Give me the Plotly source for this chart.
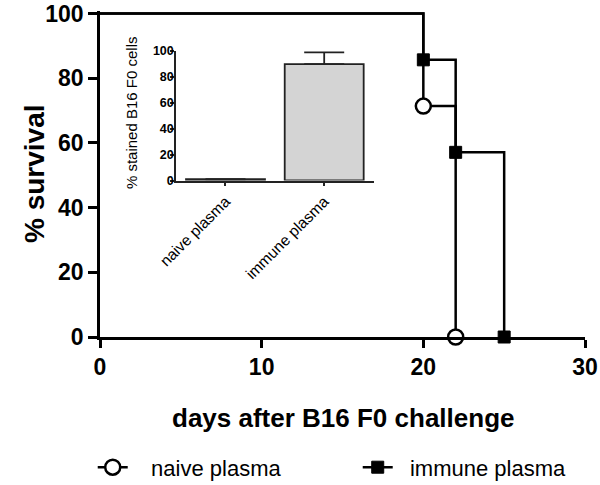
import plotly.graph_objects as go

# Survival data (days, % survival)
naive_days = [0, 20, 22]
naive_surv = [100, 71.4, 0]
immune_days = [0, 20, 22, 25]
immune_surv = [100, 85.7, 57.1, 0]

# Inset bar data
inset_cats = ["naive plasma", "immune plasma"]
inset_vals = [1, 90]
inset_err = [0, 9]

FONT = "Liberation Sans, Arial, Helvetica, sans-serif"
LW = 2.5

fig = go.Figure()

# step lines
fig.add_trace(go.Scatter(x=naive_days, y=naive_surv, mode="lines", line=dict(color="black", width=LW, shape="hv"),
                         showlegend=False, cliponaxis=False, hoverinfo="skip"))
fig.add_trace(go.Scatter(x=immune_days, y=immune_surv, mode="lines", line=dict(color="black", width=LW, shape="hv"),
                         showlegend=False, cliponaxis=False, hoverinfo="skip"))
# markers (at event points only)
fig.add_trace(go.Scatter(x=immune_days[1:], y=immune_surv[1:], mode="markers",
                         marker=dict(symbol="square", size=12, color="black", line=dict(color="black", width=1)),
                         showlegend=False, cliponaxis=False))
fig.add_trace(go.Scatter(x=naive_days[1:], y=naive_surv[1:], mode="markers",
                         marker=dict(symbol="circle", size=15, color="white", line=dict(color="black", width=LW)),
                         showlegend=False, cliponaxis=False))
# legend entries
fig.add_trace(go.Scatter(x=[None], y=[None], mode="lines+markers", name="   naive plasma",
                         line=dict(color="black", width=LW),
                         marker=dict(symbol="circle", size=15, color="white", line=dict(color="black", width=LW))))
fig.add_trace(go.Scatter(x=[None], y=[None], mode="lines+markers", name="  immune plasma",
                         line=dict(color="black", width=LW),
                         marker=dict(symbol="square", size=12, color="black", line=dict(color="black", width=1))))

# inset bars
fig.add_trace(go.Bar(x=inset_cats, y=inset_vals, xaxis="x2", yaxis="y2", width=0.8,
                     marker=dict(color="#d4d4d4", line=dict(color="#222", width=1.8)),
                     error_y=dict(type="data", array=inset_err, arrayminus=[0, 0], symmetric=False,
                                  color="#222", thickness=1.8, width=20),
                     showlegend=False))

fig.update_layout(
    width=600, height=485,
    margin=dict(l=100, r=15, t=11.4, b=148, autoexpand=False),
    plot_bgcolor="white", paper_bgcolor="white",
    font=dict(family=FONT, color="black"),
    xaxis=dict(range=[0, 30], tickvals=[0, 10, 20, 30], showgrid=False, zeroline=False, automargin=False,
               showline=True, linecolor="black", linewidth=LW, ticks="outside", ticklen=8, tickwidth=LW,
               tickcolor="black", tickfont=dict(size=23, family=FONT, weight="bold")),
    yaxis=dict(range=[0, 100.8], tickvals=[0, 20, 40, 60, 80, 100], showgrid=False, zeroline=False, automargin=False,
               showline=True, linecolor="black", linewidth=LW, ticks="outside", ticklen=9, tickwidth=LW,
               tickcolor="black", tickfont=dict(size=23, family=FONT, weight="bold")),
    xaxis2=dict(domain=[0.157, 0.564], anchor="y2", range=[-0.5, 1.5], showgrid=False, zeroline=False,
                automargin=False,
                showline=True, linecolor="#222", linewidth=1.8, ticks="outside", ticklen=4, tickwidth=1.8,
                tickcolor="#222", tickangle=-45, tickfont=dict(size=15.5, family=FONT)),
    yaxis2=dict(domain=[0.480, 0.877], anchor="x2", range=[0, 100], tickvals=[0, 20, 40, 60, 80, 100],
                automargin=False,
                showgrid=False, zeroline=False, showline=True, linecolor="#222", linewidth=1.8,
                ticks="outside", ticklen=4, tickwidth=1.8, tickcolor="#222", ticklabelstandoff=-6,
                tickfont=dict(size=12.5, family=FONT, weight="bold")),
    legend=dict(orientation="h", x=-0.015, xanchor="left", y=-0.40, yanchor="middle",
                font=dict(size=22, family=FONT), entrywidth=220, entrywidthmode="pixels",
                bgcolor="rgba(0,0,0,0)"),
    annotations=[
        dict(text="% survival", xref="paper", yref="paper", x=-0.136, y=0.5, textangle=-90,
             showarrow=False, font=dict(size=28, family=FONT, weight="bold"), xanchor="center", yanchor="middle"),
        dict(text="days after B16 F0 challenge", xref="paper", yref="paper", x=0.5, y=-0.248,
             showarrow=False, font=dict(size=26, family=FONT, weight="bold"), xanchor="center", yanchor="middle"),
        dict(text="% stained B16 F0 cells", xref="paper", yref="paper", x=0.064, y=0.687, textangle=-90,
             showarrow=False, font=dict(size=15, family=FONT), xanchor="center", yanchor="middle"),
    ],
)

fig.write_html("out.html", config={"displayModeBar": False},
               post_script="document.body.style.margin='0px';")
